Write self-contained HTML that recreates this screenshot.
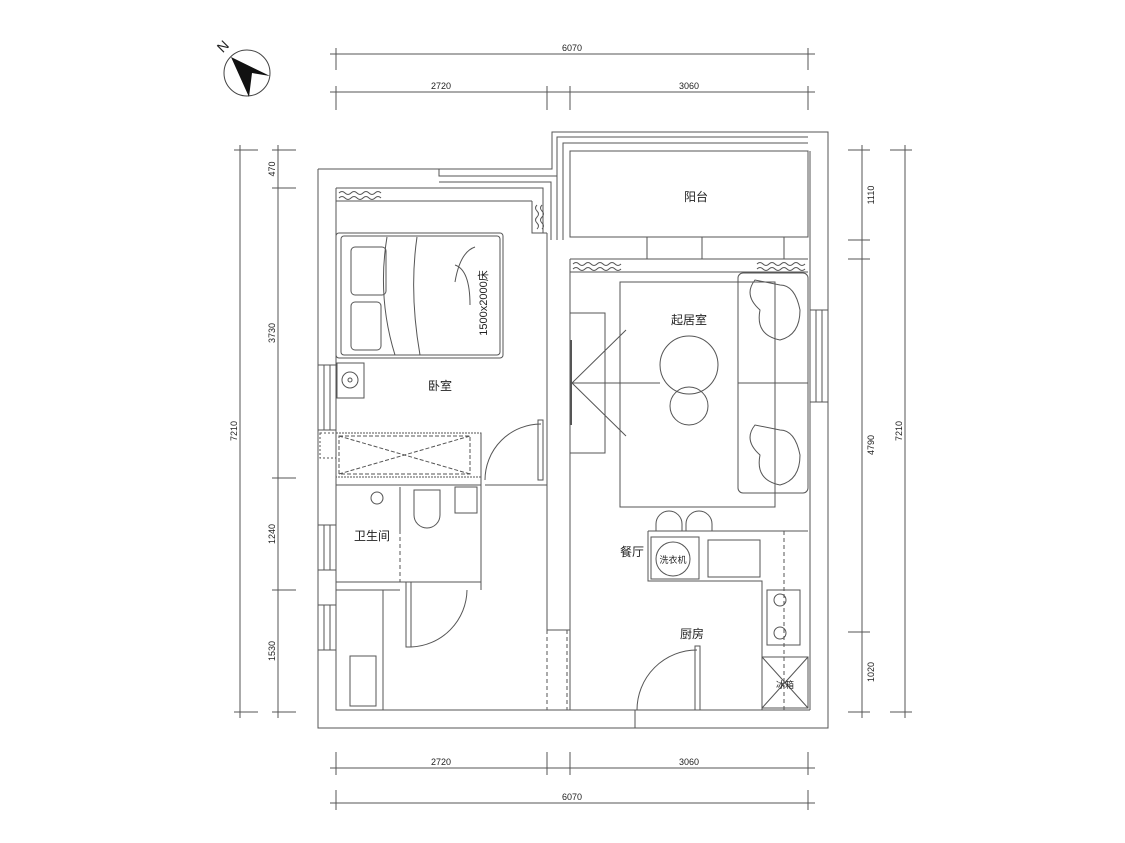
<!DOCTYPE html>
<html><head><meta charset="utf-8"><style>
html,body{margin:0;padding:0;background:#fff}
svg{display:block}
text{font-family:"Liberation Sans","Noto Sans CJK SC",sans-serif;fill:#222}
</style></head><body>
<svg width="1125" height="843" viewBox="0 0 1125 843" xmlns="http://www.w3.org/2000/svg">
<g fill="none" stroke="#444" stroke-width="1">
<circle cx="247" cy="73" r="23"/>
</g>
<polygon points="231,57 270,76 252,73 249,97" fill="#111"/>
<text x="218" y="52" font-size="14" transform="rotate(-45 222 47)">N</text>

<g stroke="#555" stroke-width="1" fill="none">
<line x1="330" y1="54" x2="815" y2="54"/>
<line x1="336" y1="48" x2="336" y2="70"/><line x1="808" y1="48" x2="808" y2="70"/>
<line x1="330" y1="92" x2="815" y2="92"/>
<line x1="336" y1="86" x2="336" y2="110"/><line x1="547" y1="86" x2="547" y2="110"/>
<line x1="570" y1="86" x2="570" y2="110"/><line x1="808" y1="86" x2="808" y2="110"/>
<line x1="330" y1="768" x2="815" y2="768"/>
<line x1="336" y1="752" x2="336" y2="775"/><line x1="547" y1="752" x2="547" y2="775"/>
<line x1="570" y1="752" x2="570" y2="775"/><line x1="808" y1="752" x2="808" y2="775"/>
<line x1="330" y1="803" x2="815" y2="803"/>
<line x1="336" y1="790" x2="336" y2="810"/><line x1="808" y1="790" x2="808" y2="810"/>
<line x1="240" y1="145" x2="240" y2="718"/>
<line x1="234" y1="150" x2="258" y2="150"/><line x1="234" y1="712" x2="258" y2="712"/>
<line x1="278" y1="145" x2="278" y2="718"/>
<line x1="272" y1="150" x2="296" y2="150"/><line x1="272" y1="188" x2="296" y2="188"/>
<line x1="272" y1="478" x2="296" y2="478"/><line x1="272" y1="590" x2="296" y2="590"/>
<line x1="272" y1="712" x2="296" y2="712"/>
<line x1="862" y1="145" x2="862" y2="718"/>
<line x1="848" y1="150" x2="870" y2="150"/><line x1="848" y1="240" x2="870" y2="240"/>
<line x1="848" y1="259" x2="870" y2="259"/><line x1="848" y1="632" x2="870" y2="632"/>
<line x1="848" y1="712" x2="870" y2="712"/>
<line x1="905" y1="145" x2="905" y2="718"/>
<line x1="890" y1="150" x2="912" y2="150"/><line x1="890" y1="712" x2="912" y2="712"/>
</g>
<g font-size="9" fill="#333">
<text x="572" y="51" text-anchor="middle">6070</text>
<text x="441" y="89" text-anchor="middle">2720</text>
<text x="689" y="89" text-anchor="middle">3060</text>
<text x="441" y="765" text-anchor="middle">2720</text>
<text x="689" y="765" text-anchor="middle">3060</text>
<text x="572" y="800" text-anchor="middle">6070</text>
<text transform="translate(237 431) rotate(-90)" text-anchor="middle">7210</text>
<text transform="translate(275 169) rotate(-90)" text-anchor="middle">470</text>
<text transform="translate(275 333) rotate(-90)" text-anchor="middle">3730</text>
<text transform="translate(275 534) rotate(-90)" text-anchor="middle">1240</text>
<text transform="translate(275 651) rotate(-90)" text-anchor="middle">1530</text>
<text transform="translate(874 195) rotate(-90)" text-anchor="middle">1110</text>
<text transform="translate(874 445) rotate(-90)" text-anchor="middle">4790</text>
<text transform="translate(874 672) rotate(-90)" text-anchor="middle">1020</text>
<text transform="translate(902 431) rotate(-90)" text-anchor="middle">7210</text>
</g>

<g stroke="#555" stroke-width="1" fill="none">
<polyline points="318,169 552,169 552,132 828,132 828,728 318,728 318,169"/>
<polyline points="336,188 336,710 810,710"/>
<line x1="810" y1="151" x2="810" y2="710"/>
<polyline points="557,240 557,137 808,137"/>
<polyline points="563,240 563,143 808,143"/>
<rect x="570" y="151" width="238" height="86"/>
<polyline points="439,169 439,176 557,176"/><polyline points="439,182 551,182 551,240"/>
<polyline points="336,188 543,188 543,233"/>
<line x1="336" y1="201" x2="532" y2="201"/><polyline points="532,201 532,233 547,233"/>
<line x1="547" y1="233" x2="547" y2="630"/>
<line x1="570" y1="259" x2="570" y2="710"/>
<line x1="547" y1="630" x2="570" y2="630"/>
<line x1="547" y1="630" x2="547" y2="710" stroke-dasharray="4,3"/>
<line x1="567" y1="630" x2="567" y2="710" stroke-dasharray="4,3"/>
<line x1="570" y1="259" x2="808" y2="259"/>
<line x1="570" y1="272" x2="808" y2="272"/>
<line x1="647" y1="237" x2="647" y2="259"/><line x1="702" y1="237" x2="702" y2="259"/>
<line x1="784" y1="237" x2="784" y2="259"/>
<line x1="647" y1="237" x2="702" y2="237" stroke-dasharray="4,3"/>
<line x1="647" y1="259" x2="702" y2="259" stroke-dasharray="4,3"/>
<path d="M339,193 q3,-3 6,0 t6,0 t6,0 t6,0 t6,0 t6,0 t6,0" />
<path d="M339,198 q3,-3 6,0 t6,0 t6,0 t6,0 t6,0 t6,0 t6,0" />
<path d="M573,264 q3,-3 6,0 t6,0 t6,0 t6,0 t6,0 t6,0 t6,0 t6,0" />
<path d="M573,269 q3,-3 6,0 t6,0 t6,0 t6,0 t6,0 t6,0 t6,0 t6,0" />
<path d="M757,264 q3,-3 6,0 t6,0 t6,0 t6,0 t6,0 t6,0 t6,0 t6,0" />
<path d="M757,269 q3,-3 6,0 t6,0 t6,0 t6,0 t6,0 t6,0 t6,0 t6,0" />
<path d="M537,205 q-3,3 0,6 t0,6 t0,6 t0,6" />
<path d="M542,205 q-3,3 0,6 t0,6 t0,6 t0,6" />
<rect x="318" y="365" width="18" height="65"/><line x1="324" y1="365" x2="324" y2="430"/><line x1="330" y1="365" x2="330" y2="430"/>
<rect x="318" y="525" width="18" height="45"/><line x1="324" y1="525" x2="324" y2="570"/><line x1="330" y1="525" x2="330" y2="570"/>
<rect x="318" y="605" width="18" height="45"/><line x1="324" y1="605" x2="324" y2="650"/><line x1="330" y1="605" x2="330" y2="650"/>
<rect x="810" y="310" width="18" height="92"/><line x1="816" y1="310" x2="816" y2="402"/><line x1="822" y1="310" x2="822" y2="402"/>
<rect x="336" y="233" width="167" height="125" rx="3"/>
<rect x="341" y="236" width="159" height="119" rx="3"/>
<rect x="351" y="247" width="35" height="48" rx="4"/>
<rect x="351" y="302" width="30" height="48" rx="4"/>
<path d="M387,237 q-10,60 8,118 M417,237 q-8,55 3,118 M455,265 q15,5 15,40 M455,282 q5,-30 20,-35"/>
<rect x="337" y="363" width="27" height="35"/><circle cx="350" cy="380" r="8"/><circle cx="350" cy="380" r="2"/>
<rect x="320" y="433" width="16" height="25" stroke-dasharray="2,2"/>
<rect x="336" y="433" width="145" height="44" stroke-dasharray="2,1"/>
<rect x="339" y="436" width="131" height="38" stroke-dasharray="4,2"/>
<path d="M339,436 L470,474 M339,474 L470,436" stroke-dasharray="4,2"/>
<line x1="336" y1="485" x2="481" y2="485"/>
<line x1="481" y1="433" x2="481" y2="485"/>
<path d="M485,480 A56,56 0 0 1 541,424"/>
<rect x="538" y="420" width="5" height="60"/>
<line x1="485" y1="485" x2="547" y2="485"/>
<line x1="336" y1="582" x2="481" y2="582"/>
<line x1="481" y1="485" x2="481" y2="590"/>
<line x1="400" y1="487" x2="400" y2="530"/>
<line x1="400" y1="530" x2="400" y2="582" stroke-dasharray="4,3"/>
<path d="M414,490 v25 a13,13 0 0 0 26,0 v-25 z"/>
<rect x="455" y="487" width="22" height="26"/>
<circle cx="377" cy="498" r="6"/>
<line x1="336" y1="590" x2="383" y2="590"/><line x1="383" y1="590" x2="383" y2="710"/>
<line x1="336" y1="590" x2="400" y2="590"/>
<rect x="350" y="656" width="26" height="50"/>
<rect x="406" y="582" width="5" height="65"/>
<path d="M411,647 A58,58 0 0 0 467,590"/>
<rect x="620" y="282" width="155" height="225"/>
<rect x="738" y="273" width="70" height="220" rx="5"/>
<line x1="738" y1="383" x2="808" y2="383"/>
<rect x="570" y="313" width="35" height="140"/>
<line x1="571" y1="340" x2="571" y2="425" stroke-width="2"/>
<path d="M572,383 L626,330 M572,383 L626,436 M572,383 L660,383"/>
<circle cx="689" cy="365" r="29"/>
<circle cx="689" cy="406" r="19"/>
<path d="M755,280 q-12,15 5,30 q-5,25 20,30 q20,-5 20,-30 q-5,-25 -20,-25 z"/>
<path d="M755,425 q-12,15 5,30 q-5,25 20,30 q20,-5 20,-30 q-5,-25 -20,-25 z"/>
<path d="M656,531 v-7 a13,13 0 0 1 26,0 v7 M686,531 v-7 a13,13 0 0 1 26,0 v7"/>
<polyline points="648,531 808,531"/>
<polyline points="648,531 648,581 762,581 762,710"/>
<rect x="651" y="537" width="48" height="42"/>
<circle cx="673" cy="559" r="17"/>
<rect x="708" y="540" width="52" height="37"/>
<rect x="767" y="590" width="33" height="55"/>
<circle cx="780" cy="600" r="6"/><circle cx="780" cy="633" r="6"/>
<rect x="762" y="657" width="46" height="51"/>
<path d="M762,657 L808,708 M808,657 L762,708"/>
<line x1="784" y1="531" x2="784" y2="710" stroke-dasharray="4,3"/>
<rect x="695" y="646" width="5" height="64"/>
<path d="M637,710 A60,60 0 0 1 697,650"/>
<line x1="635" y1="710" x2="635" y2="728"/>
</g>
<g font-size="12">
<text x="696" y="201" text-anchor="middle">阳台</text>
<text x="689" y="324" text-anchor="middle">起居室</text>
<text x="440" y="390" text-anchor="middle">卧室</text>
<text x="372" y="540" text-anchor="middle">卫生间</text>
<text x="632" y="556" text-anchor="middle">餐厅</text>
<text x="692" y="638" text-anchor="middle">厨房</text>
<text x="673" y="563" text-anchor="middle" font-size="9">洗衣机</text>
<text x="785" y="688" text-anchor="middle" font-size="9">冰箱</text>
<text transform="translate(487 303) rotate(-90)" text-anchor="middle" font-size="11" font-family="Liberation Serif">1500x2000床</text>
</g>
</svg>
</body></html>
